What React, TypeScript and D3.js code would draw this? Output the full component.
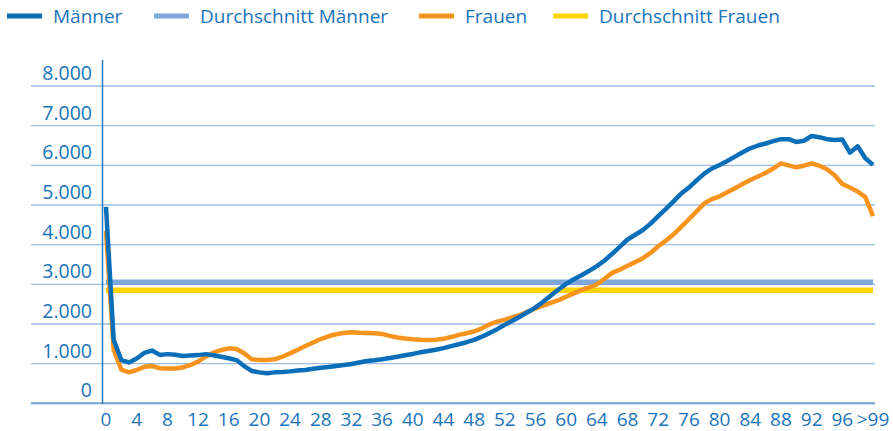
import React, { useRef, useEffect } from 'react';
import * as d3 from 'd3';

// Alter 0 .. 100 (100 = ">99")
const ages = d3.range(0, 101);

const maenner = [
  4950, 1600, 1090, 1030, 1130, 1270, 1330, 1220, 1240, 1225,
  1195, 1205, 1215, 1240, 1210, 1175, 1135, 1090, 940, 815,
  780, 755, 780, 790, 805, 825, 840, 870, 895, 915,
  940, 965, 990, 1030, 1065, 1085, 1110, 1140, 1175, 1210,
  1245, 1285, 1320, 1350, 1390, 1440, 1490, 1540, 1600, 1680,
  1770, 1870, 1980, 2080, 2190, 2300, 2420, 2560, 2720, 2870,
  3010, 3130, 3230, 3340, 3460, 3600, 3770, 3950, 4130, 4250,
  4370, 4530, 4720, 4900, 5090, 5290, 5440, 5620, 5790, 5920,
  6010, 6110, 6220, 6330, 6430, 6500, 6550, 6610, 6660, 6660,
  6590, 6620, 6740, 6710, 6660, 6640, 6650, 6320, 6480, 6180,
  6010,
];

const frauen = [
  4350, 1350, 850, 780, 840, 920, 940, 885, 875, 875,
  905, 965, 1050, 1175, 1275, 1340, 1385, 1370, 1260, 1110,
  1090, 1090, 1110, 1175, 1260, 1350, 1445, 1535, 1620, 1690,
  1740, 1775, 1790, 1780, 1775, 1765, 1750, 1700, 1660, 1635,
  1615, 1600, 1595, 1605, 1625, 1670, 1725, 1765, 1810, 1890,
  1990, 2060, 2110, 2170, 2230, 2310, 2390, 2460, 2530, 2600,
  2690, 2770, 2860, 2920, 3000, 3140, 3290, 3370, 3470, 3560,
  3660, 3790, 3960, 4100, 4260, 4450, 4640, 4840, 5040, 5150,
  5220, 5320, 5420, 5530, 5630, 5720, 5810, 5920, 6050, 6000,
  5950, 5990, 6050, 5990, 5900, 5750, 5530, 5440, 5340, 5200,
  4720,
];

const avgMaenner = 3050;
const avgFrauen = 2850;

const yTicks = [0, 1000, 2000, 3000, 4000, 5000, 6000, 7000, 8000];
const xTicks = d3.range(0, 100, 4).concat([100]);
const xTickLabel = (d: number) => (d === 100 ? '>99' : String(d));

const legendItems = [
  { label: 'Männer', color: '#0a6fb8' },
  { label: 'Durchschnitt Männer', color: '#7fa7da' },
  { label: 'Frauen', color: '#f7941e' },
  { label: 'Durchschnitt Frauen', color: '#ffd400' },
];

const width = 893;
const height = 431;
const textColor = '#1a74bb';
const font = '"Open Sans", sans-serif';

export default function App() {
  const ref = useRef<SVGSVGElement>(null);

  useEffect(() => {
    const svg = d3.select(ref.current);
    svg.selectAll('*').remove();

    const x = d3.scaleLinear().domain([0, 100]).range([106, 873]);
    const y = d3.scaleLinear().domain([0, 8000]).range([403.3, 86]);

    // gridlines
    svg.append('g')
      .selectAll('line')
      .data(yTicks)
      .join('line')
      .attr('x1', 31)
      .attr('x2', 875)
      .attr('y1', d => y(d))
      .attr('y2', d => y(d))
      .attr('stroke', d => (d === 0 ? '#6fa0d4' : '#9dbde3'))
      .attr('stroke-width', d => (d === 0 ? 2 : 1.3));

    // y axis line
    svg.append('line')
      .attr('x1', 102.5).attr('x2', 102.5)
      .attr('y1', 60).attr('y2', 404)
      .attr('stroke', '#2b7bc2')
      .attr('stroke-width', 1.5);

    // y labels
    svg.append('g')
      .selectAll('text')
      .data(yTicks)
      .join('text')
      .attr('x', 92)
      .attr('y', d => y(d) - 6)
      .attr('text-anchor', 'end')
      .attr('fill', textColor)
      .attr('font-family', font)
      .attr('font-size', 19.5)
      .text(d => d3.format(',')(d).replace(/,/g, '.'));

    // x labels
    svg.append('g')
      .selectAll('text')
      .data(xTicks)
      .join('text')
      .attr('x', d => x(d))
      .attr('y', 426)
      .attr('text-anchor', 'middle')
      .attr('fill', textColor)
      .attr('font-family', font)
      .attr('font-size', 19)
      .text(xTickLabel);

    // averages
    const drawAvg = (value: number, color: string) => {
      svg.append('path')
        .datum([0, 100])
        .attr('fill', 'none')
        .attr('stroke', color)
        .attr('stroke-width', 5.5)
        .attr('d', d3.line<number>().x(d => x(d)).y(() => y(value)));
    };
    drawAvg(avgMaenner, '#7fa7da');
    drawAvg(avgFrauen, '#ffd400');

    // series
    const line = d3.line<number>()
      .x((_, i) => x(ages[i]))
      .y(d => y(d));

    svg.append('path')
      .datum(frauen)
      .attr('fill', 'none')
      .attr('stroke', '#f7941e')
      .attr('stroke-width', 4.5)
      .attr('stroke-linejoin', 'round')
      .attr('d', line);

    svg.append('path')
      .datum(maenner)
      .attr('fill', 'none')
      .attr('stroke', '#0a6fb8')
      .attr('stroke-width', 4.5)
      .attr('stroke-linejoin', 'round')
      .attr('d', line);

    // legend
    const legendX = [7, 154, 419, 553];
    const lg = svg.append('g');
    legendItems.forEach((item, i) => {
      lg.append('line')
        .attr('x1', legendX[i]).attr('x2', legendX[i] + 35)
        .attr('y1', 16).attr('y2', 16)
        .attr('stroke', item.color)
        .attr('stroke-width', 5);
      lg.append('text')
        .attr('x', legendX[i] + 46)
        .attr('y', 23)
        .attr('fill', textColor)
        .attr('font-family', font)
        .attr('font-size', 19)
        .text(item.label);
    });
  }, []);

  return (
    <svg
      ref={ref}
      width={width}
      height={height}
      style={{ position: 'absolute', left: 0, top: 0, background: '#fff' }}
    />
  );
}
